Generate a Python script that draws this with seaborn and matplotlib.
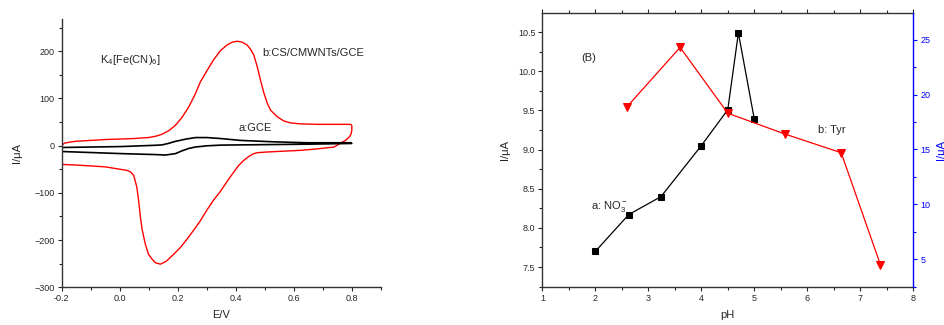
import numpy as np
import pandas as pd
import matplotlib
matplotlib.use('Agg')
import matplotlib.pyplot as plt
from matplotlib.ticker import MultipleLocator
import seaborn as sns

# ── Data: CV curves (A) ────────────────────────────────────────────────────
# b: CS/CMWNTs/GCE, closed loop (forward scan then reverse scan)
cv_b_E = [-0.200, -0.197, -0.189, -0.154, -0.050, 0.050, 0.099, 0.125, 0.146, 0.170,
          0.192, 0.215, 0.238, 0.261, 0.278, 0.301, 0.324, 0.347, 0.370, 0.388,
          0.405, 0.422, 0.439, 0.451, 0.462, 0.474, 0.485, 0.497, 0.509, 0.520,
          0.543, 0.566, 0.589, 0.624, 0.681, 0.762, 0.790, 0.797, 0.800, 0.800,
          0.797, 0.791, 0.778, 0.762, 0.739, 0.680, 0.624, 0.509, 0.475, 0.462,
          0.445, 0.428, 0.410, 0.393, 0.370, 0.347, 0.324, 0.300, 0.278, 0.255,
          0.232, 0.210, 0.186, 0.160, 0.140, 0.123, 0.111, 0.099, 0.088, 0.077,
          0.071, 0.065, 0.059, 0.053, 0.048, 0.038, 0.025, -0.050, -0.154, -0.195,
          -0.200, -0.200, -0.200, -0.200]
cv_b_I = [-3, 2, 5.6, 9, 12.8, 15, 17, 20, 24, 32,
          43, 60, 82, 110, 135, 159, 182, 201, 213, 219,
          221, 219, 213, 204, 192, 167, 139, 111, 89, 75,
          61, 52, 48, 46, 45, 45, 45, 44.7, 42, 32.6,
          24, 18, 11, 5.7, -3, -7, -10, -13.5, -15, -17,
          -23, -31, -42, -56, -76, -97, -115, -137, -159, -179,
          -198, -215, -230, -245, -251, -248, -240, -230, -208, -177,
          -150, -116, -88, -74, -63, -56, -52.5, -45, -41, -40,
          -38, -17, 4, -3]

# a: bare GCE
cv_a_E = [-0.200, 0.007, 0.123, 0.146, 0.170, 0.192, 0.230, 0.261, 0.300, 0.347,
          0.416, 0.531, 0.647, 0.797, 0.800, 0.647, 0.416, 0.347, 0.300, 0.261,
          0.238, 0.215, 0.192, 0.157, 0.123, 0.007, -0.200]
cv_a_I = [-4, -2, 0.7, 1.5, 5, 9, 14, 17, 17, 15,
          11, 8, 6, 6, 4.5, 3, 1.5, 1, -0.5, -3,
          -6, -11, -17, -20, -19, -17, -12.5]

# ── Data: pH dependence (B) ────────────────────────────────────────────────
ph_no3 = [2.0, 2.63, 3.24, 4.0, 4.5, 4.7, 5.0]
i_no3 = [7.70, 8.17, 8.40, 9.05, 9.51, 10.49, 9.39]

ph_tyr = [2.60, 3.60, 4.50, 5.58, 6.64, 7.38]
i_tyr = [18.9, 24.3, 18.3, 16.4, 14.7, 4.5]

RED = '#ff0000'
BLUE = '#0000ff'

sns.set_style('ticks')
plt.rcParams['font.family'] = ['Liberation Sans', 'DejaVu Sans']
plt.rcParams['mathtext.default'] = 'regular'
plt.rcParams['axes.linewidth'] = 1.0
plt.rcParams['axes.edgecolor'] = '#333333'

fig = plt.figure(figsize=(9.45, 3.25), dpi=100)
ax1 = fig.add_axes([0.0653, 0.116, 0.3377, 0.8255])
ax2 = fig.add_axes([0.5739, 0.118, 0.3925, 0.841])

# ── Panel A ────────────────────────────────────────────────────────────────
df_b = pd.DataFrame({'E': cv_b_E, 'I': cv_b_I})
df_a = pd.DataFrame({'E': cv_a_E, 'I': cv_a_I})
sns.lineplot(data=df_b, x='E', y='I', sort=False, estimator=None,
             color=RED, lw=1.0, ax=ax1)
sns.lineplot(data=df_a, x='E', y='I', sort=False, estimator=None,
             color='black', lw=1.2, ax=ax1)

ax1.set_xlim(-0.2, 0.9)
ax1.set_ylim(-300, 268)
ax1.xaxis.set_major_locator(MultipleLocator(0.2))
ax1.xaxis.set_minor_locator(MultipleLocator(0.1))
ax1.yaxis.set_major_locator(MultipleLocator(100))
ax1.yaxis.set_minor_locator(MultipleLocator(50))
ax1.set_xticks([-0.2, 0.0, 0.2, 0.4, 0.6, 0.8])
ax1.set_xticklabels(['-0.2', '0.0', '0.2', '0.4', '0.6', '0.8'])
sns.despine(ax=ax1)
ax1.tick_params(which='major', length=3, width=0.8, labelsize=6.5, pad=2)
ax1.tick_params(which='minor', length=2, width=0.8)
ax1.set_xlabel('E/V', fontsize=8, labelpad=5)
ax1.set_ylabel('I/\u03bcA', fontsize=8, labelpad=9)

ax1.text(-0.067, 182, r'K$_4$[Fe(CN)$_6$]', fontsize=8, va='center')
ax1.text(0.493, 196, 'b:CS/CMWNTs/GCE', fontsize=8, va='center')
ax1.text(0.41, 37.5, 'a:GCE', fontsize=8, va='center')

# ── Panel B ────────────────────────────────────────────────────────────────
sns.lineplot(x=ph_no3, y=i_no3, color='black', lw=0.9, marker='s',
             markersize=4.5, markeredgecolor='black', ax=ax2)
ax2r = ax2.twinx()
sns.lineplot(x=ph_tyr, y=i_tyr, color=RED, lw=0.9, marker='v',
             markersize=6, markeredgecolor=RED, ax=ax2r)

ax2.set_xlim(1, 8)
ax2.set_ylim(7.25, 10.74)
ax2r.set_ylim(2.5, 27.4)
ax2.xaxis.set_major_locator(MultipleLocator(1))
ax2.xaxis.set_minor_locator(MultipleLocator(0.5))
ax2.yaxis.set_major_locator(MultipleLocator(0.5))
ax2.yaxis.set_minor_locator(MultipleLocator(0.25))
ax2r.yaxis.set_major_locator(MultipleLocator(5))
ax2r.yaxis.set_minor_locator(MultipleLocator(2.5))

ax2.tick_params(which='both', top=True, width=0.8)
ax2.tick_params(which='major', length=3, labelsize=6.5, pad=2)
ax2.tick_params(which='minor', length=2)
ax2.spines['right'].set_visible(False)
for side in ['left', 'top', 'bottom']:
    ax2r.spines[side].set_visible(False)
ax2r.spines['right'].set_color(BLUE)
ax2r.tick_params(which='both', colors=BLUE, width=0.8)
ax2r.tick_params(which='major', length=3, labelsize=6.5, pad=2)
ax2r.tick_params(which='minor', length=2)

ax2.set_xlabel('pH', fontsize=8, labelpad=5)
ax2.set_ylabel('I/\u03bcA', fontsize=8, labelpad=6)
# right-axis label sits at the figure edge, as in the original
ax2r.set_ylabel('I/\u03bcA', fontsize=8, color=BLUE, labelpad=4)

ax2.text(1.73, 10.17, '(B)', fontsize=8, va='center')
ax2.text(1.91, 8.27, r'a: NO$_3^-$', fontsize=8, va='center')
ax2.text(6.20, 9.25, 'b: Tyr', fontsize=8, va='center')

fig.savefig('out.png', dpi=100)
